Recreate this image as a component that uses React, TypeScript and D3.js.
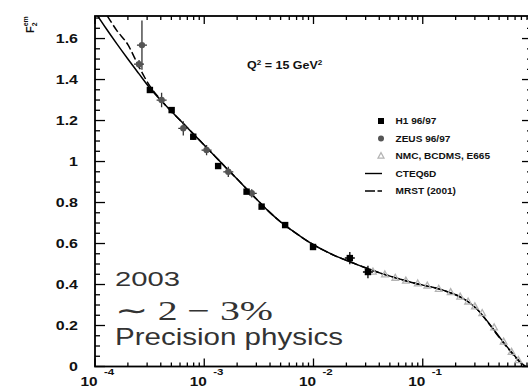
import React from "react";
import * as d3 from "d3";

const W = 528;
const H = 387;

// Theory curves: F2 vs x at Q^2 = 15 GeV^2
const curveX = [
  1.0e-4, 1.26e-4, 1.58e-4, 2.0e-4, 2.51e-4, 3.16e-4, 3.98e-4, 5.01e-4, 6.31e-4, 7.94e-4,
  1.0e-3, 1.26e-3, 1.58e-3, 2.0e-3, 2.51e-3, 3.16e-3, 3.98e-3, 5.01e-3, 6.31e-3, 7.94e-3,
  0.01, 0.0126, 0.0158, 0.02, 0.0251, 0.0316, 0.0398, 0.0501, 0.0631, 0.0794,
  0.1, 0.126, 0.158, 0.2, 0.251, 0.316, 0.398, 0.501, 0.631, 0.794, 0.87,
];
const cteqF = [
  1.73, 1.65, 1.575, 1.5, 1.43, 1.36, 1.3, 1.245, 1.19, 1.135,
  1.08, 1.025, 0.97, 0.915, 0.86, 0.805, 0.752, 0.705, 0.665, 0.628,
  0.594, 0.565, 0.54, 0.518, 0.497, 0.477, 0.458, 0.441, 0.425, 0.41,
  0.397, 0.385, 0.37, 0.35, 0.322, 0.278, 0.215, 0.145, 0.078, 0.018, 0.0,
];
const mrstF = [
  1.8, 1.72, 1.64, 1.57, 1.465, 1.37, 1.302, 1.245, 1.19, 1.135,
  1.08, 1.025, 0.97, 0.915, 0.86, 0.805, 0.752, 0.705, 0.665, 0.628,
  0.594, 0.565, 0.54, 0.518, 0.497, 0.477, 0.458, 0.441, 0.425, 0.41,
  0.397, 0.385, 0.37, 0.35, 0.322, 0.278, 0.213, 0.142, 0.075, 0.016, 0.0,
];

// H1 96/97
const h1X = [3.18e-4, 5.03e-4, 7.93e-4, 1.34e-3, 2.44e-3, 3.35e-3, 5.5e-3, 9.9e-3, 0.0215, 0.0315];
const h1F = [1.349, 1.251, 1.121, 0.978, 0.853, 0.78, 0.69, 0.583, 0.529, 0.461];
const h1Err = [0.015, 0.015, 0.015, 0.012, 0.012, 0.012, 0.012, 0.012, 0.03, 0.03];

// ZEUS 96/97
const zeusX = [2.69e-4, 2.53e-4, 4.07e-4, 6.43e-4, 1.05e-3, 1.66e-3, 2.72e-3];
const zeusF = [1.568, 1.475, 1.3, 1.162, 1.056, 0.95, 0.845];
const zeusErr = [0.12, 0.02, 0.035, 0.035, 0.025, 0.025, 0.02];

// NMC, BCDMS, E665
const fixedX = [0.035, 0.045, 0.056, 0.07, 0.09, 0.11, 0.14, 0.18, 0.22, 0.26, 0.3, 0.35, 0.45, 0.55, 0.65, 0.75];
const fixedF = [0.462, 0.448, 0.432, 0.418, 0.404, 0.394, 0.378, 0.362, 0.34, 0.316, 0.292, 0.26, 0.19, 0.12, 0.07, 0.03];

const yLabelValues = [0, 0.2, 0.4, 0.6, 0.8, 1, 1.2, 1.4, 1.6];
const yLabels = ["0", "0.2", "0.4", "0.6", "0.8", "1", "1.2", "1.4", "1.6"];
const xLabelValues = [1e-4, 1e-3, 1e-2, 1e-1];
const xLabelExps = ["-4", "-3", "-2", "-1"];

const legendNames = ["H1 96/97", "ZEUS 96/97", "NMC, BCDMS, E665", "CTEQ6D", "MRST (2001)"];

const M = { left: 95, right: 532, top: 16, bottom: 366.5 };

const x = d3.scaleLog().domain([1e-4, 1]).range([M.left, M.right]);
const y = d3.scaleLinear().domain([0, 1.71]).range([M.bottom, M.top]);

const SANS = "'Liberation Sans', Arial, Helvetica, sans-serif";
const SERIF = "'Liberation Serif', 'Times New Roman', serif";

const isDecade = (v: number) => Math.abs(Math.log10(v) - Math.round(Math.log10(v))) < 1e-6;

function STxt(props: {
  x: number; y: number; size: number; sx?: number; anchor?: string; weight?: string;
  fill?: string; family?: string; children: React.ReactNode;
}) {
  const { x: tx, y: ty, size, sx = 1.28, anchor = "start", weight = "bold", fill = "#111", family = SANS } = props;
  return (
    <text
      transform={`translate(${tx},${ty}) scale(${sx},1)`}
      fontSize={size}
      fontWeight={weight}
      fontFamily={family}
      textAnchor={anchor}
      fill={fill}
    >
      {props.children}
    </text>
  );
}

export default function App() {
  const xs = curveX.map((v) => x(v));
  const line = d3
    .line<number>()
    .x((_, i) => xs[i])
    .y((d) => y(d))
    .curve(d3.curveMonotoneX);

  const xTicks = x.ticks();
  const yTicks = y.ticks(35);

  const tri = (cx: number, cy: number, s: number) =>
    `M${cx},${cy - s * 0.62}L${cx + s * 0.55},${cy + s * 0.38}L${cx - s * 0.55},${cy + s * 0.38}Z`;

  const legendRowY = (i: number) => 121 + i * 17.5;
  const legX = 381;

  return (
    <svg
      width={W}
      height={H}
      style={{ position: "absolute", left: 0, top: 0, background: "#fff" }}
    >
      <defs>
        <clipPath id="plotArea">
          <rect x={M.left} y={M.top} width={M.right - M.left} height={M.bottom - M.top} />
        </clipPath>
      </defs>

      {/* frame */}
      <rect
        x={M.left}
        y={M.top}
        width={M.right - M.left}
        height={M.bottom - M.top}
        fill="none"
        stroke="#000"
        strokeWidth={1.8}
      />

      {/* x ticks (bottom up, top down) */}
      {xTicks.map((t, i) => {
        const len = isDecade(t) ? 8 : 4;
        const px = x(t);
        return (
          <g key={"xt" + i} stroke="#000" strokeWidth={1.3}>
            <line x1={px} x2={px} y1={M.bottom} y2={M.bottom - len} />
            <line x1={px} x2={px} y1={M.top} y2={M.top + len} />
          </g>
        );
      })}

      {/* y ticks (left to the right, right to the left) */}
      {yTicks.map((t, i) => {
        const major = Math.abs(t / 0.2 - Math.round(t / 0.2)) < 1e-6;
        const len = major ? 10 : 5;
        const py = y(t);
        return (
          <g key={"yt" + i} stroke="#000" strokeWidth={1.3}>
            <line x1={M.left} x2={M.left + len} y1={py} y2={py} />
            <line x1={M.right} x2={M.right - len} y1={py} y2={py} />
          </g>
        );
      })}

      {/* y tick labels */}
      {yLabelValues.map((v, i) => (
        <STxt key={"yl" + i} x={78} y={y(v) + 4.5} size={12.5} anchor="end">
          {yLabels[i]}
        </STxt>
      ))}

      {/* x tick labels */}
      {xLabelValues.map((v, i) => (
        <g key={"xl" + i}>
          <STxt x={x(v) + 2.5} y={385.5} size={12} anchor="end">
            10
          </STxt>
          <STxt x={x(v) + 9} y={375} size={9} anchor="start">
            {xLabelExps[i]}
          </STxt>
        </g>
      ))}

      {/* y axis title */}
      <g transform="translate(34,33) rotate(-90)">
        <text fontFamily={SANS} fontWeight="bold" fontSize={11} fill="#111">
          F
          <tspan fontSize={7} dy={3}>2</tspan>
          <tspan fontSize={7} dy={-9} dx={-4}>em</tspan>
        </text>
      </g>

      {/* Q2 annotation */}
      <STxt x={247} y={69} size={10} sx={1.25}>
        Q<tspan fontSize={6.5} dy={-4}>2</tspan>
        <tspan dy={4}> = 15 GeV</tspan>
        <tspan fontSize={6.5} dy={-4}>2</tspan>
      </STxt>

      <g clipPath="url(#plotArea)">
        {/* curves */}
        <path d={line(cteqF) || ""} fill="none" stroke="#000" strokeWidth={1.5} />
        <path d={line(mrstF) || ""} fill="none" stroke="#000" strokeWidth={1.5} strokeDasharray="8,3" />

        {/* NMC, BCDMS, E665 */}
        {fixedX.map((v, i) => (
          <path
            key={"n" + i}
            d={tri(x(v), y(fixedF[i]), 6)}
            fill="none"
            stroke="#b4b4b4"
            strokeWidth={1.3}
          />
        ))}

        {/* ZEUS */}
        {zeusX.map((v, i) => {
          const px = x(v);
          const py = y(zeusF[i]);
          return (
            <g key={"z" + i}>
              <line x1={px} x2={px} y1={y(zeusF[i] + zeusErr[i])} y2={y(zeusF[i] - zeusErr[i])} stroke="#333" strokeWidth={1.3} />
              <line x1={px - 5} x2={px + 5} y1={py} y2={py} stroke="#333" strokeWidth={1.3} />
              <circle cx={px} cy={py} r={3.2} fill="#555" />
            </g>
          );
        })}

        {/* H1 */}
        {h1X.map((v, i) => {
          const px = x(v);
          const py = y(h1F[i]);
          return (
            <g key={"h" + i}>
              <line x1={px} x2={px} y1={y(h1F[i] + h1Err[i])} y2={y(h1F[i] - h1Err[i])} stroke="#000" strokeWidth={1.3} />
              {h1Err[i] > 0.02 && (
                <line x1={px - 5} x2={px + 5} y1={py} y2={py} stroke="#000" strokeWidth={1.5} />
              )}
              <rect x={px - 3.2} y={py - 3.2} width={6.4} height={6.4} fill="#000" />
            </g>
          );
        })}
      </g>

      {/* legend */}
      <rect x={legX - 3} y={legendRowY(0) - 3} width={6} height={6} fill="#000" />
      <circle cx={legX} cy={legendRowY(1)} r={3} fill="#555" />
      <path d={tri(legX, legendRowY(2), 5.5)} fill="none" stroke="#b4b4b4" strokeWidth={1.2} />
      <line x1={365} x2={382} y1={legendRowY(3)} y2={legendRowY(3)} stroke="#000" strokeWidth={1.4} />
      <line x1={365} x2={382} y1={legendRowY(4)} y2={legendRowY(4)} stroke="#000" strokeWidth={1.4} strokeDasharray="10,2.5,5,20" />
      {legendNames.map((n, i) => (
        <STxt key={"lg" + i} x={395.5} y={legendRowY(i) + 3.3} size={9} sx={1.12}>
          {n}
        </STxt>
      ))}

      {/* annotation */}
      <text x={115} y={286} fontFamily={SANS} fontSize={21} fill="#333" textLength={65} lengthAdjust="spacingAndGlyphs">
        2003
      </text>
      <text x={115} y={320} fontFamily={SERIF} fontSize={28} fill="#333" textLength={158} lengthAdjust="spacingAndGlyphs">
        ∼ 2 − 3%
      </text>
      <text x={115} y={345} fontFamily={SANS} fontSize={24} fill="#333" textLength={228} lengthAdjust="spacingAndGlyphs">
        Precision physics
      </text>
    </svg>
  );
}
